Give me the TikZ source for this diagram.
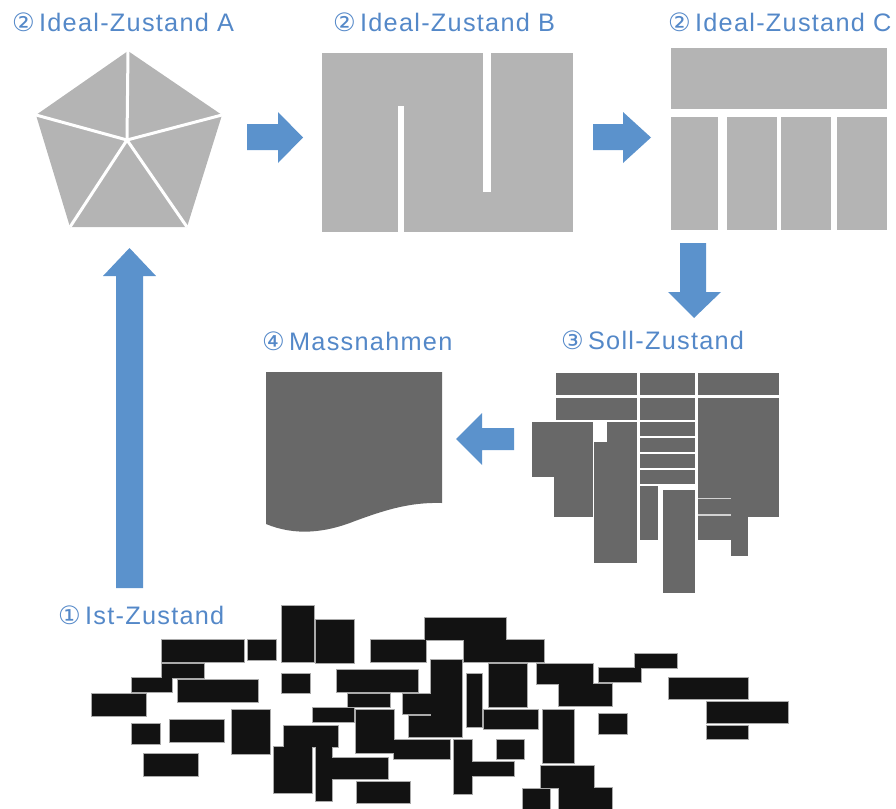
\documentclass[tikz,border=0pt]{standalone}
\usepackage{fontspec}
\setmainfont{Liberation Sans}
\newfontfamily\digitfont{DejaVu Sans}
\definecolor{lblue}{RGB}{84,136,200}
\definecolor{abl}{RGB}{91,146,204}
\definecolor{lgray}{RGB}{180,180,180}
\definecolor{dgray}{RGB}{104,104,104}
\definecolor{blk}{RGB}{18,18,18}
\definecolor{edge}{RGB}{170,170,170}
\begin{document}
\begin{tikzpicture}[x=1pt,y=-1pt,
  lbl/.style={anchor=base west, inner sep=0, text=lblue, font=\fontsize{25.3}{29}\selectfont\addfontfeature{LetterSpace=5}}]
\useasboundingbox (0,0) rectangle (896,808);

% ---------- labels ----------
\node[lbl] (labA) at (12,32) {{\digitfont ②}\,Ideal-Zustand A};
\node[lbl] (labB) at (333,32) {{\digitfont ②}\,Ideal-Zustand B};
\node[lbl] (labC) at (668,32) {{\digitfont ②}\,Ideal-Zustand C};
\node[lbl] (labS) at (561,349) {{\digitfont ③}\,Soll-Zustand};
\node[lbl] (labM) at (262,350) {{\digitfont ④}\,Massnahmen};
\node[lbl] (labI) at (58,624) {{\digitfont ①}\,Ist-Zustand};

% ---------- Ideal A: pentagon ----------
\fill[lgray] (128,51) -- (222,115) -- (187,227) -- (70,227) -- (36,115) -- cycle;
\foreach \p in {(128,51),(222,115),(187,227),(70,227),(36,115)}
  \draw[white, line width=3pt] (127,140) -- \p;

% ---------- Ideal B ----------
\fill[lgray] (322,53) rectangle (573,232);
\fill[white] (398,106) rectangle (404,233);
\fill[white] (483,52) rectangle (491,192);

% ---------- Ideal C ----------
\fill[lgray] (671,48) rectangle (887,109);
\fill[lgray] (671,117) rectangle (718,230);
\fill[lgray] (727,117) rectangle (777,230);
\fill[lgray] (781,117) rectangle (831,230);
\fill[lgray] (837,117) rectangle (887,230);

% ---------- arrows ----------
\fill[abl] (247,124) -- (278,124) -- (278,112) -- (303,137.5) -- (278,163) -- (278,150) -- (247,150) -- cycle;
\fill[abl] (593,124) -- (623,124) -- (623,112) -- (651,137.5) -- (623,163) -- (623,150) -- (593,150) -- cycle;
\fill[abl] (680,243) -- (706,243) -- (706,292) -- (721,292) -- (694,318) -- (668,292) -- (680,292) -- cycle;
\fill[abl] (514,428) -- (482,428) -- (482,413) -- (456,439) -- (482,465) -- (482,450) -- (514,450) -- cycle;
\fill[abl] (116,588) -- (116,276) -- (103,276) -- (129.5,248) -- (156,276) -- (143,276) -- (143,588) -- cycle;

% ---------- Soll-Zustand ----------
\foreach \a/\b/\c/\d in {
  556/373/637/395, 640/373/695/395, 698/373/779/395,
  556/398/637/420, 640/398/695/420, 698/398/779/517,
  532/422/593/477, 554/477/593/517,
  594/442/637/563, 607/422/637/442,
  640/422/695/436, 640/438/695/452, 640/454/695/468, 640/470/695/484,
  640/486/658/540, 663/490/695/593,
  698/517/748/540, 731/517/748/556}
  \fill[dgray] (\a,\b) rectangle (\c,\d);
\draw[lgray!60, line width=1.6pt] (698,498.5) -- (731,498.5);
\draw[lgray!60, line width=1.6pt] (698,515) -- (731,515);

% ---------- Massnahmen: document ----------
\fill[dgray] (266,372) -- (442,372) -- (442,503)
  .. controls (410,502) and (385,510) .. (355,521)
  .. controls (325,533) and (295,536) .. (266,524) -- cycle;

% ---------- Ist-Zustand ----------
\def\istblocks{
  162/640/244/662, 248/640/276/660, 282/606/314/662, 316/620/354/663,
  162/664/204/678, 132/678/172/692, 178/680/258/702, 92/694/146/716,
  282/674/310/693, 132/724/160/744, 170/720/224/742, 232/710/270/754,
  144/754/198/776, 313/708/354/722, 284/726/338/747, 274/747/312/793,
  316/747/332/801, 332/758/388/779, 357/782/410/803,
  425/618/506/640, 371/640/426/662, 464/640/544/662, 337/670/418/692,
  431/660/462/737, 403/694/431/714, 409/716/431/737, 467/674/482/727,
  489/664/527/707, 537/664/593/684, 559/684/612/706, 599/668/641/682,
  635/654/677/668, 348/694/390/707, 356/710/394/753, 394/740/450/759,
  484/710/538/729, 543/710/574/763, 599/714/627/734, 454/740/472/794,
  472/762/514/776, 497/740/524/759, 541/766/594/788, 559/788/612/812,
  523/789/550/812, 669/678/748/699, 707/702/788/723, 707/726/748/739}
\foreach \a/\b/\c/\d in \istblocks
  \draw[edge, line width=1.3pt] (\a,\b) rectangle (\c,\d);
\foreach \a/\b/\c/\d in \istblocks
  \fill[blk] (\a,\b) rectangle (\c,\d);
\end{tikzpicture}
\end{document}
